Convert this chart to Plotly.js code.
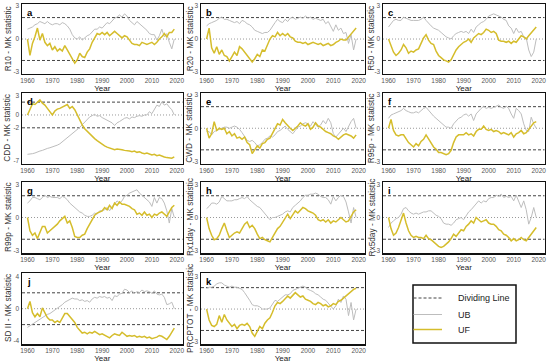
<!DOCTYPE html>
<html><head><meta charset="utf-8">
<script src="https://cdn.plot.ly/plotly-3.0.1.min.js"></script>
<style>html,body{margin:0;padding:0;background:#fff}#chart{width:550px;height:363px}</style>
</head><body><div id="chart"></div>
<script>
const years = [1960,1961,1962,1963,1964,1965,1966,1967,1968,1969,1970,1971,1972,1973,1974,1975,1976,1977,1978,1979,1980,1981,1982,1983,1984,1985,1986,1987,1988,1989,1990,1991,1992,1993,1994,1995,1996,1997,1998,1999,2000,2001,2002,2003,2004,2005,2006,2007,2008,2009,2010,2011,2012,2013,2014,2015,2016,2017,2018,2019];
const xTicks = [1960,1970,1980,1990,2000,2010,2020];
const dividing = [1.96, -1.96];
const legendLabels = ['Dividing Line','UB','UF'];

const uf_R10 = [0,-1.5,-0.4,0.2,1.0,-0.1,0.5,-0.3,-0.6,-0.4,-1.0,-0.7,-1.1,-0.9,-1.1,-0.6,-1.0,-1.4,-1.8,-2.2,-1.9,-1.3,-1.6,-1.7,-1.2,-0.9,-0.3,0.1,0.5,0.4,0.6,0.4,0.6,0.3,0.5,0.7,0.5,0.3,0.1,0.3,0.2,-0.1,-0.4,-0.5,-0.5,-0.6,-0.3,-0.4,-0.5,-0.4,-0.3,-0.5,-0.3,0.0,0.2,0.5,0.2,0.6,0.6,0.9];
const ub_R10 = [0.9,1.0,1.1,1.3,1.4,1.6,1.5,1.4,1.6,1.4,1.3,1.4,1.4,1.3,1.5,1.4,1.2,0.9,0.4,0.1,0.0,0.2,-0.1,0.1,0.3,0.4,0.7,0.9,0.9,1.1,1.0,1.3,1.5,1.4,1.7,1.9,2.0,2.2,2.0,2.3,2.1,1.7,1.5,1.3,1.6,1.4,1.2,1.0,0.8,0.5,0.4,0.4,-0.1,0.3,0.9,0.2,0.5,-0.3,-0.9,0.0];

const uf_R20 = [0,1.0,-0.8,-1.3,-0.7,-1.4,-1.0,-1.5,-1.6,-2.0,-1.6,-1.2,-1.5,-0.7,-0.9,-1.2,-1.6,-1.8,-2.1,-1.8,-1.4,-1.6,-1.0,-1.1,-0.6,0.0,0.3,0.2,0.6,0.3,0.5,0.3,0.5,0.2,0.1,-0.2,-0.3,-0.3,-0.4,-0.3,-0.5,-0.4,-0.3,-0.4,-0.5,-0.4,-0.6,-0.5,-0.4,-0.6,-0.5,-0.3,-0.2,0.0,-0.1,-0.1,0.2,0.5,0.8,1.0];
const ub_R20 = [1.2,1.4,1.5,1.6,1.7,1.9,2.0,1.8,1.8,1.7,1.6,1.5,1.6,1.4,1.7,1.6,1.4,1.3,1.1,0.8,0.7,0.6,0.5,0.6,0.6,0.8,1.2,1.5,1.8,1.6,1.5,1.8,1.6,1.9,2.0,1.8,1.9,2.0,1.9,2.1,1.9,2.0,1.8,1.9,1.8,1.7,1.8,1.4,1.6,1.2,0.7,1.3,0.8,1.0,0.5,0.6,-0.4,0.4,-1.0,0.0];

const uf_R50 = [0,-0.6,-1.2,-1.5,-1.3,-1.0,-0.5,-0.8,-1.3,-1.1,-1.2,-1.0,-0.9,-0.4,0.1,0.4,-0.1,-0.4,-0.5,-1.1,-1.5,-1.7,-1.9,-2.0,-2.1,-1.9,-1.4,-1.0,-0.7,-0.5,-0.3,-0.2,0.0,-0.3,0.1,0.3,0.5,0.4,0.6,0.9,0.8,0.6,0.7,0.5,-0.1,-0.2,-0.2,-0.3,-0.2,-0.4,-0.2,-0.3,0.0,0.3,0.2,0.0,0.3,0.6,0.9,1.1];
const ub_R50 = [1.1,1.4,1.7,1.8,1.7,1.7,2.0,1.9,1.8,1.7,1.7,1.7,1.7,1.8,2.0,1.7,1.4,1.2,1.0,0.9,0.8,0.6,0.4,0.2,0.1,0.0,0.3,0.5,0.6,0.7,0.6,0.7,0.5,0.9,0.6,1.1,1.3,1.5,1.6,1.8,2.1,2.2,2.3,2.2,2.1,2.0,1.8,1.7,1.2,1.0,0.5,1.0,0.6,0.7,0.2,0.1,-1.0,-1.6,-1.2,0.0];

const uf_CDD = [0,1.0,1.7,1.6,2.0,2.3,1.8,1.5,1.0,0.5,0.0,0.6,0.9,1.0,1.2,1.3,1.6,1.0,1.3,0.8,0.0,-0.8,-1.5,-2.1,-2.5,-2.9,-3.3,-3.6,-3.9,-4.2,-4.5,-4.7,-4.9,-5.0,-5.1,-5.3,-5.2,-5.2,-5.3,-5.4,-5.4,-5.5,-5.6,-5.5,-5.7,-5.6,-5.8,-5.9,-5.8,-6.0,-6.1,-6.0,-6.2,-6.1,-6.3,-6.4,-6.5,-6.6,-6.6,-6.4];
const ub_CDD = [-6.0,-6.0,-5.9,-5.8,-5.6,-5.5,-5.4,-5.2,-5.1,-5.0,-4.9,-4.8,-4.6,-4.4,-4.1,-3.8,-3.5,-3.2,-2.9,-2.6,-2.2,-1.9,-1.5,-1.1,-0.7,-0.3,-0.1,0.1,-0.2,-0.1,-0.4,-0.6,-0.8,-1.0,-1.2,-1.6,-1.2,-1.0,-0.7,-0.5,-0.4,-0.6,-0.3,-0.4,-0.2,-0.1,-0.2,0.0,0.0,0.5,0.2,0.8,1.5,1.3,2.0,1.5,1.7,1.2,0.8,0.0];

const uf_CWD = [0,-0.9,-0.5,0.6,-0.2,0.0,-0.1,0.0,-0.5,-0.3,-0.7,-0.5,-0.9,-0.8,-1.0,-0.8,-1.3,-1.5,-2.3,-1.9,-1.6,-1.8,-1.4,-1.3,-1.0,-0.9,-0.5,0.0,0.4,0.3,0.8,0.5,0.2,0.0,-0.2,0.0,0.2,0.5,0.3,0.2,0.4,-0.1,0.1,0.5,0.2,0.1,-0.1,-0.3,-0.4,-0.5,-0.7,-0.8,-1.0,-0.8,-0.6,-0.5,-0.6,-0.7,-0.9,-0.6];
const ub_CWD = [-0.3,-0.3,-0.6,-0.3,-0.2,-0.1,0.0,0.1,0.1,0.0,0.1,0.2,0.1,-0.1,-0.4,-0.8,-1.1,-1.2,-1.1,-1.3,-1.6,-1.5,-1.3,-1.0,-0.9,-0.7,-0.8,-0.6,-0.3,-0.2,0.0,0.2,-0.1,-0.3,-0.5,-0.2,0.1,0.2,0.4,0.5,0.4,0.2,0.6,0.3,0.1,0.3,0.7,0.4,0.9,0.5,-0.5,-0.8,-0.5,-0.3,0.0,-0.3,0.2,0.6,0.9,0.0];

const uf_R95p = [0,0.8,-0.2,-0.6,-0.7,-0.6,-0.6,-1.0,-1.3,-1.5,-1.7,-1.4,-1.6,-1.2,-1.0,-0.6,-1.0,-1.4,-1.7,-1.9,-2.2,-2.2,-2.3,-2.4,-2.3,-2.0,-1.3,-0.8,-0.6,-0.6,-0.6,-0.4,-0.6,-0.5,-0.7,-0.3,-0.1,-0.1,0.2,-0.1,-0.2,-0.1,-0.3,-0.2,-0.3,-0.5,-0.4,-0.5,-0.6,-0.4,-0.8,-0.5,-0.4,-0.2,-0.5,-0.4,-0.1,0.2,0.5,0.6];
const ub_R95p = [0.9,1.2,1.3,1.4,1.5,1.6,1.8,1.6,1.5,1.4,1.4,1.5,1.4,1.6,1.8,1.9,1.6,1.4,1.1,0.9,0.7,0.5,0.3,0.1,0.1,0.0,0.4,0.7,0.9,1.0,1.2,1.3,1.1,1.3,0.7,1.3,1.6,1.8,2.0,1.8,1.9,1.8,1.9,2.0,2.1,1.9,1.8,2.0,1.8,1.3,0.9,1.8,1.6,1.3,0.4,-0.2,-0.3,1.0,0.4,0.0];

const uf_R99p = [0,-1.2,-1.6,-1.4,-1.9,-1.4,-0.8,-0.8,-1.4,-1.2,-1.0,-0.8,-0.6,-0.3,-0.1,0.1,-0.5,-0.3,-0.9,-1.7,-1.8,-1.8,-1.6,-1.5,-1.0,-0.6,-0.2,0.2,0.4,0.5,0.6,0.9,0.7,1.1,0.8,1.3,1.1,1.4,1.2,1.2,1.1,1.0,0.8,0.7,0.3,0.4,0.2,0.5,0.2,0.3,0.0,0.3,0.2,0.4,0.5,0.3,0.1,0.5,0.9,1.1];
const ub_R99p = [1.3,1.5,1.8,1.8,1.7,1.6,1.8,2.0,1.8,1.9,1.8,1.8,1.8,1.7,1.9,1.8,1.6,1.3,1.1,0.9,0.7,0.5,0.4,0.2,0.1,0.1,0.2,0.4,0.3,0.6,0.6,0.7,0.9,0.6,1.0,1.2,1.5,1.3,1.5,1.9,2.0,2.2,2.3,2.4,2.5,2.2,2.0,1.8,1.6,1.4,1.0,1.8,1.3,1.8,1.7,1.3,0.6,-0.5,0.8,0.0];

const uf_Rx1day = [0,-1.0,-1.6,-2.0,-1.9,-1.6,-1.0,-0.5,-1.2,-1.8,-1.6,-1.4,-1.3,-1.4,-1.0,-0.6,-0.4,-0.9,-0.7,-1.0,-1.5,-1.9,-1.8,-2.0,-2.1,-2.2,-1.8,-1.4,-1.0,-0.8,-0.4,-0.1,0.3,-0.1,0.3,0.6,0.4,0.7,0.9,0.8,0.6,0.5,0.4,0.2,-0.2,-0.3,-0.2,-0.4,-0.2,-0.5,-0.3,-0.4,-0.2,0.0,-0.2,-0.4,-0.3,0.1,0.5,0.7];
const ub_Rx1day = [0.8,1.0,1.3,1.3,1.2,1.4,1.9,1.7,1.5,1.5,1.5,1.6,1.6,1.7,1.8,1.7,1.9,1.6,1.4,1.2,1.0,0.9,0.6,0.3,0.0,-0.2,0.0,0.0,0.1,0.2,0.3,0.5,0.6,0.5,0.9,1.1,1.3,1.5,1.8,2.0,2.0,2.1,2.1,2.2,2.1,1.9,1.8,1.8,1.6,1.2,1.9,1.5,1.8,2.0,1.9,1.4,0.5,-0.5,0.9,0.0];

const uf_Rx5day = [0,-1.0,-1.6,-1.4,-0.9,-0.2,0.4,-0.5,-1.2,-1.6,-1.8,-1.7,-1.8,-1.8,-1.9,-1.6,-1.9,-2.0,-2.2,-2.4,-2.6,-2.7,-2.6,-2.4,-2.2,-1.9,-1.5,-1.7,-1.4,-1.1,-1.2,-0.8,-0.6,-0.3,-0.5,0.0,-0.2,-0.4,-0.3,-0.2,-0.5,-0.6,-0.6,-0.8,-1.1,-1.2,-1.5,-1.6,-1.8,-2.1,-1.9,-2.1,-2.0,-1.8,-2.0,-2.1,-1.8,-1.5,-1.2,-0.9];
const ub_Rx5day = [-0.9,-0.5,-0.3,-0.1,0.0,0.3,0.8,0.9,0.6,0.4,0.3,0.4,0.3,0.4,0.5,0.5,0.6,0.6,0.4,0.2,0.1,-0.1,-0.5,-0.6,-0.6,-0.7,-0.5,-0.2,-0.1,0.0,-0.2,0.2,0.5,0.7,1.0,1.2,1.5,1.3,1.5,1.4,1.7,1.8,1.8,2.0,1.9,2.1,1.8,1.9,1.8,1.9,1.5,2.0,1.5,0.9,1.5,0.7,-0.6,0.0,0.9,0.0];

const uf_SDII = [0,0.9,-0.5,-1.0,-0.6,-1.0,0.1,-0.5,-1.1,-1.4,-1.4,-1.7,-1.5,-1.7,-1.2,-0.6,-0.6,-1.0,-1.4,-1.7,-2.3,-2.7,-3.0,-2.9,-3.1,-2.9,-3.0,-2.8,-3.0,-3.2,-3.1,-3.3,-3.4,-3.6,-3.3,-3.1,-3.2,-3.3,-2.9,-3.2,-3.4,-3.3,-3.4,-3.3,-3.5,-3.4,-3.5,-3.4,-3.6,-3.5,-3.7,-3.6,-3.5,-3.3,-3.4,-3.6,-3.8,-3.4,-2.9,-2.4];
const ub_SDII = [-2.3,-2.1,-1.9,-1.6,-1.4,-1.2,-1.0,-0.9,-0.7,-0.6,-0.4,-0.2,0.0,0.2,0.5,0.8,1.0,1.2,1.3,1.2,1.2,1.0,1.1,0.9,1.0,0.8,1.2,1.4,1.3,1.5,1.4,1.5,1.3,1.4,1.0,1.6,1.5,1.8,1.9,2.4,2.3,2.0,2.2,1.9,2.1,2.0,2.3,2.1,2.2,2.1,1.9,2.2,1.8,1.7,1.8,1.4,0.5,0.6,0.8,0.0];

const uf_PRCPTOT = [0,-1.0,-1.5,-1.6,-1.4,-0.6,-1.2,-0.5,-1.0,-1.3,-1.6,-1.4,-1.8,-1.5,-1.4,-1.5,-1.3,-1.6,-2.2,-2.5,-2.0,-1.6,-1.8,-1.3,-1.0,-0.8,-0.3,0.3,0.6,0.5,0.7,1.0,1.2,1.0,1.3,1.5,1.3,1.1,1.2,0.9,0.8,0.7,0.5,0.4,0.6,0.5,0.3,0.4,0.2,0.3,0.5,0.4,0.7,0.8,1.0,1.2,1.4,1.6,1.8,1.9];
const ub_PRCPTOT = [1.9,2.0,2.0,2.1,2.3,2.4,2.4,2.2,2.1,2.0,2.1,2.0,2.0,1.9,1.8,1.5,1.2,0.8,0.4,0.3,0.3,0.2,0.0,0.0,0.0,0.1,0.4,0.8,0.7,0.9,1.1,1.3,1.3,1.4,1.7,1.8,1.9,2.0,2.1,2.0,1.8,1.7,1.6,1.4,1.3,1.1,0.9,0.8,0.5,0.2,0.0,0.3,0.9,0.6,1.2,0.9,-0.6,0.6,-1.0,0.0];

const panelLetters = ['a','b','c','d','e','f','g','h','i','j','k'];
const yTitles = ['R10 - MK statistic','R20 - MK statistic','R50 - MK statistic','CDD - MK statistic','CWD - MK statistic','R95p - MK statistic','R99p - MK statistic','Rx1day - MK statistic','Rx5day - MK statistic','SD II - MK statistic','PRCPTOT - MK statistic'];
const ufSeries = [uf_R10,uf_R20,uf_R50,uf_CDD,uf_CWD,uf_R95p,uf_R99p,uf_Rx1day,uf_Rx5day,uf_SDII,uf_PRCPTOT];
const ubSeries = [ub_R10,ub_R20,ub_R50,ub_CDD,ub_CWD,ub_R95p,ub_R99p,ub_Rx1day,ub_Rx5day,ub_SDII,ub_PRCPTOT];
const yTickSets = [[-3,0,3],[-3,0,3],[-3,0,3],[-7,-2,0,3],[-3,0,3],[-3,0,3],[-3,0,3],[-3,0,3],[-3,0,3],[-4,0,4],[-3,0,3]];

// layout geometry (pixels)
const W = 550, H = 363;
const cols = [[22,182.5],[201,364.5],[383,544.5]];
const titleX = [7.5, 189.5, 371];
const rows = [[4,73.5],[93,163.5],[182,253],[273,344]];
const yRanges = [[-3.15,3.2],[-3.15,3.2],[-3.15,3.2],[-7.4,3.35],[-3.2,3.2],[-3.2,3.2],[-3.2,3.2],[-3.2,3.2],[-3.2,3.2],[-4.35,4.4],[-3.2,3.3]];

const UF_COLOR = '#d5bd2c', UB_COLOR = '#bdbdbd', DIV_COLOR = '#444444';
const FONT = 'Arial, "Liberation Sans", sans-serif';

const traces = [], shapes = [], annotations = [];
const layout = {width:W, height:H, margin:{l:0,r:0,t:0,b:0}, paper_bgcolor:'#fff', plot_bgcolor:'#fff', showlegend:false, font:{family:FONT}};

for (let i = 0; i < 11; i++) {
  const r = Math.floor(i/3), c = i%3;
  const n = i === 0 ? '' : String(i+1);
  const xa = 'x'+n, ya = 'y'+n;
  const xd = [cols[c][0]/W, cols[c][1]/W];
  const yd = [1-rows[r][1]/H, 1-rows[r][0]/H];
  layout['xaxis'+n] = {domain:xd, anchor:ya, range:[1957.8,2022.3], tickvals:xTicks, ticktext:xTicks.map(String),
    showgrid:false, zeroline:false, showline:true, mirror:true, linecolor:'#111', linewidth:1.5, ticks:'',
    tickfont:{size:6.5, color:'#555', family:FONT},
    title:{text:'Year', font:{size:8, color:'#222', family:FONT}, standoff:0}};
  layout['yaxis'+n] = {domain:yd, anchor:xa, range:yRanges[i], tickvals:yTickSets[i], ticktext:yTickSets[i].map(String),
    showgrid:false, zeroline:false, showline:true, mirror:true, linecolor:'#111', linewidth:1.5, ticks:'',
    tickfont:{size:6.5, color:'#555', family:FONT}};
  traces.push({x:years, y:ubSeries[i], xaxis:xa, yaxis:ya, type:'scatter', mode:'lines', name:'UB', line:{color:UB_COLOR, width:1}, hoverinfo:'skip'});
  traces.push({x:years, y:ufSeries[i], xaxis:xa, yaxis:ya, type:'scatter', mode:'lines', name:'UF', line:{color:UF_COLOR, width:1.5}, hoverinfo:'skip'});
  dividing.forEach(v => shapes.push({type:'line', xref:xa+' domain', yref:ya, x0:0, x1:1, y0:v, y1:v, line:{color:DIV_COLOR, width:1, dash:'3px,2px'}, layer:'below'}));
  shapes.push({type:'line', xref:xa+' domain', yref:ya, x0:0, x1:1, y0:0, y1:0, line:{color:'#999', width:1, dash:'1px,2px'}, layer:'below'});
  annotations.push({xref:'paper', yref:'paper', x:(cols[c][0]+3)/W, y:1-(rows[r][0]+1)/H, xanchor:'left', yanchor:'top', showarrow:false, text:'<b>'+panelLetters[i]+'</b>', font:{size:9.5, color:'#000', family:FONT}});
  annotations.push({xref:'paper', yref:'paper', x:titleX[c]/W, y:1-((rows[r][0]+rows[r][1])/2)/H, xanchor:'center', yanchor:'middle', textangle:-90, showarrow:false, text:yTitles[i], font:{size:8.3, color:'#333', family:FONT}});
}

// legend box
const lg = {x0:413, x1:516, y0:285, y1:343, lx0:413.5, lx1:442, tx:456, rowsY:[298,314.5,329.5]};
shapes.push({type:'rect', xref:'paper', yref:'paper', x0:lg.x0/W, x1:lg.x1/W, y0:1-lg.y0/H, y1:1-lg.y1/H, line:{color:'#111', width:1.5}, fillcolor:'rgba(0,0,0,0)'});
const legStyles = [{color:DIV_COLOR, width:1, dash:'3px,2px'},{color:UB_COLOR, width:1, dash:'solid'},{color:UF_COLOR, width:1.5, dash:'solid'}];
legendLabels.forEach((t, k) => {
  const yy = 1-lg.rowsY[k]/H;
  shapes.push({type:'line', xref:'paper', yref:'paper', x0:lg.lx0/W, x1:lg.lx1/W, y0:yy, y1:yy, line:legStyles[k]});
  annotations.push({xref:'paper', yref:'paper', x:lg.tx/W, y:yy, xanchor:'left', yanchor:'middle', showarrow:false, text:t, font:{size:9, color:'#222', family:FONT}});
});
layout.shapes = shapes;
layout.annotations = annotations;
Plotly.newPlot('chart', traces, layout, {staticPlot:true, displayModeBar:false});
</script></body></html>
